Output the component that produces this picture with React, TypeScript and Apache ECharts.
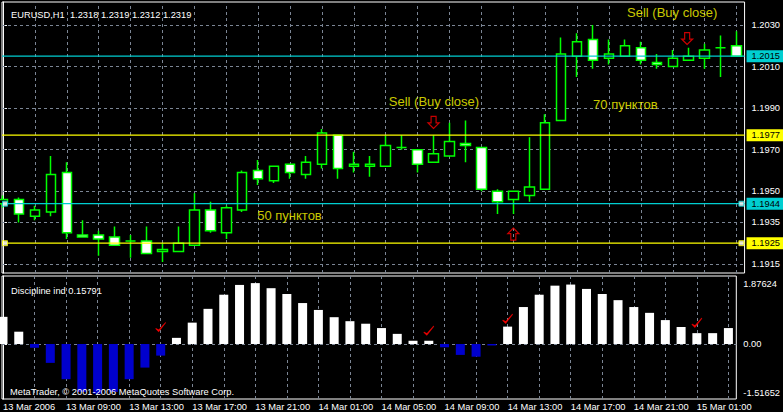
import React, { useEffect, useRef } from "react";
import * as echarts from "echarts";

// ---------- data ----------
const opens = [
  1.1944, 1.1946, 1.1938, 1.194, 1.1959, 1.1929, 1.1929, 1.1928, 1.1926, 1.1926,
  1.1921, 1.1921, 1.1924, 1.1941, 1.193, 1.1941, 1.196, 1.1955, 1.1963, 1.1958,
  1.1963, 1.1977, 1.1962, 1.1962, 1.1962, 1.1971, 1.197, 1.1964, 1.1967, 1.1973,
  1.1971, 1.195, 1.1946, 1.1948, 1.1951, 1.1984, 1.2015, 1.2023, 1.2014, 1.2015,
  1.2019, 1.2012, 1.201, 1.2013, 1.2014, 1.2019, 1.202,
];
const highs = [
  1.1948, 1.1947, 1.1943, 1.1967, 1.1964, 1.1936, 1.1931, 1.1933, 1.1929, 1.1933,
  1.1925, 1.1933, 1.1949, 1.1945, 1.1943, 1.196, 1.1965, 1.1962, 1.1963, 1.1967,
  1.198, 1.1977, 1.1969, 1.1967, 1.1977, 1.1977, 1.197, 1.1977, 1.1983, 1.1984,
  1.1971, 1.1951, 1.195, 1.1976, 1.1987, 1.2024, 1.2026, 1.203, 1.2023, 1.2023,
  1.2022, 1.2016, 1.2018, 1.2019, 1.2021, 1.2025, 1.2027,
];
const lows = [
  1.1942, 1.1935, 1.1936, 1.1938, 1.1927, 1.1928, 1.1919, 1.1924, 1.1918, 1.192,
  1.1916, 1.1921, 1.1924, 1.193, 1.1927, 1.194, 1.1953, 1.1954, 1.1956, 1.1956,
  1.1961, 1.1956, 1.1959, 1.1957, 1.1962, 1.197, 1.1959, 1.1964, 1.1967, 1.1964,
  1.195, 1.1939, 1.1939, 1.1945, 1.1951, 1.1984, 1.2005, 1.2009, 1.2011, 1.2015,
  1.2011, 1.2009, 1.201, 1.2013, 1.2009, 1.2005, 1.2015,
];
const closes = [
  1.1946, 1.1939, 1.1941, 1.1958, 1.193, 1.1928, 1.1927, 1.1924, 1.1926, 1.192,
  1.1922, 1.1925, 1.1941, 1.1931, 1.1942, 1.1959, 1.1956, 1.1962, 1.1959, 1.1964,
  1.1978, 1.1961, 1.1963, 1.1963, 1.1972, 1.1971, 1.1963, 1.1968, 1.1974, 1.1972,
  1.1951, 1.1945, 1.195, 1.1952, 1.1983, 1.2016, 1.2022, 1.2013, 1.2016, 1.202,
  1.2013, 1.2011, 1.2014, 1.2015, 1.2018, 1.2019, 1.2015,
];
const disciplineValues = [
  0.75, 0.34, -0.1, -0.52, -0.97, -1.32, -1.37, -1.32, -0.97, -0.65,
  -0.32, 0.17, 0.59, 0.97, 1.36, 1.63, 1.68, 1.54, 1.38, 1.13,
  0.94, 0.74, 0.63, 0.56, 0.44, 0.28, 0.09, 0.09, -0.09, -0.3,
  -0.35, -0.04, 0.48, 1.02, 1.36, 1.61, 1.64, 1.52, 1.38, 1.21,
  1.02, 0.86, 0.66, 0.47, 0.3, 0.3, 0.44,
];
const timeLabels = [
  "13 Mar 2006", "13 Mar 09:00", "13 Mar 13:00", "13 Mar 17:00", "13 Mar 21:00",
  "14 Mar 01:00", "14 Mar 05:00", "14 Mar 09:00", "14 Mar 13:00", "14 Mar 17:00",
  "14 Mar 21:00", "15 Mar 01:00",
];
const priceTicks = [1.1915, 1.1935, 1.195, 1.197, 1.199, 1.201, 1.203];
const cyanLevels = [1.2015, 1.1944];
const yellowLevels = [1.1977, 1.1925];
const selectedLevels = [1.1944, 1.1925];
const indicatorMax = 1.87624;
const indicatorMin = -1.51652;

const titleText = "EURUSD,H1  1.2318 1.2319 1.2312 1.2319";
const indicatorTitle = "Discipline ind 0.15791";
const copyrightText = "MetaTrader, \u00A9 2001-2006 MetaQuotes Software Corp.";

const annotations = [
  { text: "Sell (Buy close)", at: [24.19, 1.19932] },
  { text: "Sell (Buy close)", at: [39.13, 1.2036] },
  { text: "50 пунктов", at: [15.94, 1.19383] },
  { text: "70 пунктов", at: [37.0, 1.19917] },
];
const upArrows = [[32, 1.19294]];
const downArrows = [[27, 1.19831], [42.9, 1.20235]];
const checkMarks = [[10, 0.47], [27, 0.37], [32, 0.7], [44, 0.59]];

// ---------- styles ----------
const FONT = "'Liberation Sans', Arial, sans-serif";
const FS = 9.3;
const GRID_COLOR = "#7b8594";
const CYAN = "#00CED1";
const YELLOW = "#FFFF00";
const LIME = "#00FF00";
const BLUE = "#0000CD";
const RED = "#FF0000";
const X_MIN = -0.0625;
const X_MAX = 46.5;
const Y_MIN = 1.191066;
const Y_MAX = 1.204107;

const ARROW_UP = "path://M5.5 0 L11 5.5 L8 5.5 L8 12 L3 12 L3 5.5 L0 5.5 Z";
const CHECK = "path://M0 6 L3 9 L10 0 L3.2 7.6 Z";

export default function App() {
  const ref = useRef<HTMLDivElement>(null);

  useEffect(() => {
    if (!ref.current) return;
    const chart = echarts.init(ref.current, undefined, { renderer: "svg" });

    const n = opens.length;
    const candleData = opens.map((o, i) => [i, o, closes[i], lows[i], highs[i]]);
    const vGrid: number[] = [];
    for (let i = 2; i < n; i += 2) vGrid.push(i);
    const labelIdx = timeLabels.map((_, k) => k * 4);

    const textStyle = { color: "#fff", fontSize: FS, fontWeight: "normal" as const, fontFamily: FONT };

    const levelSeries = (value: number, color: string) => ({
      name: "level " + value,
      type: "line",
      xAxisIndex: 0,
      yAxisIndex: 0,
      z: 7,
      silent: true,
      symbol: "none",
      showSymbol: false,
      color,
      data: [[X_MIN, value], [X_MAX, value]],
      lineStyle: { color, width: 1.2, type: "solid" },
      emphasis: { disabled: true },
      endLabel: {
        show: true,
        distance: 2,
        formatter: () => value.toFixed(4),
        color: "#000",
        backgroundColor: color,
        padding: [2, 5, 1, 5],
        fontSize: FS,
        fontFamily: FONT,
      },
    });

    const handleItems = selectedLevels.flatMap((v) =>
      [0.125, 46.3].map((x) => ({
        value: [x, v],
        itemStyle: { color: "#fff", borderColor: cyanLevels.includes(v) ? CYAN : YELLOW, borderWidth: 1 },
      }))
    );

    const gridLineStyle = { color: GRID_COLOR, width: 1, type: [3, 3] };

    const option: any = {
      backgroundColor: "#000",
      animation: false,
      title: [
        { text: titleText, left: 6, top: 5, textStyle },
        { text: indicatorTitle, left: 6, top: 281, textStyle },
        { text: copyrightText, left: 5, top: 382, textStyle },
      ],
      grid: [
        { left: 2, top: 2, width: 745, height: 271, show: true, borderColor: "#fff", borderWidth: 1, backgroundColor: "transparent" },
        { left: 2, top: 276, width: 745, height: 123, show: true, borderColor: "#fff", borderWidth: 1, backgroundColor: "transparent" },
      ],
      xAxis: [
        { type: "value", gridIndex: 0, min: X_MIN, max: X_MAX, show: false },
        {
          type: "value",
          gridIndex: 1,
          min: X_MIN,
          max: X_MAX,
          axisLine: { show: false },
          axisTick: { show: false },
          splitLine: { show: false },
          axisLabel: {
            customValues: labelIdx,
            showMinLabel: true,
            showMaxLabel: true,
            formatter: (v: number) => timeLabels[Math.round(v / 4)] ?? "",
            color: "#fff",
            fontSize: FS,
            fontFamily: FONT,
            align: "left",
            margin: 3,
          },
        },
      ],
      yAxis: [
        {
          type: "value",
          gridIndex: 0,
          position: "right",
          min: Y_MIN,
          max: Y_MAX,
          axisLine: { show: true, lineStyle: { color: "#fff" } },
          axisTick: { show: true, length: 4, customValues: priceTicks, lineStyle: { color: "#fff" } },
          axisLabel: {
            customValues: priceTicks,
            showMinLabel: true,
            showMaxLabel: true,
            formatter: (v: number) => v.toFixed(4),
            color: "#fff",
            fontSize: FS,
            fontFamily: FONT,
            margin: 7,
          },
          splitLine: { show: false },
        },
        {
          type: "value",
          gridIndex: 1,
          position: "right",
          min: indicatorMin,
          max: indicatorMax,
          axisLine: { show: true, lineStyle: { color: "#fff" } },
          axisTick: { show: true, length: 4, customValues: [0], lineStyle: { color: "#fff" } },
          axisLabel: {
            customValues: [indicatorMin, 0, indicatorMax],
            showMinLabel: true,
            showMaxLabel: true,
            formatter: (v: number) =>
              v === indicatorMax ? "{t|" + indicatorMax + "}" : v === indicatorMin ? "{b|" + indicatorMin + "}" : "0.00",
            rich: {
              t: { padding: [16, 0, 0, 0], color: "#fff", fontSize: FS, fontFamily: FONT },
              b: { padding: [0, 0, 12, 0], color: "#fff", fontSize: FS, fontFamily: FONT },
            },
            color: "#fff",
            fontSize: FS,
            fontFamily: FONT,
            margin: 7,
          },
          splitLine: { show: false },
        },
      ],
      series: [
        {
          name: "grid-main",
          type: "line",
          xAxisIndex: 0,
          yAxisIndex: 0,
          data: [],
          silent: true,
          markLine: {
            silent: true,
            precision: 6,
            symbol: "none",
            label: { show: false },
            lineStyle: gridLineStyle,
            data: [...priceTicks.map((v) => ({ yAxis: v })), ...vGrid.map((v) => ({ xAxis: v }))],
          },
        },
        {
          name: "grid-ind",
          type: "line",
          xAxisIndex: 1,
          yAxisIndex: 1,
          data: [],
          silent: true,
          markLine: {
            silent: true,
            precision: 6,
            symbol: "none",
            label: { show: false },
            lineStyle: gridLineStyle,
            data: [{ yAxis: 0 }, ...vGrid.map((v) => ({ xAxis: v }))],
          },
        },
        {
          name: "EURUSD",
          type: "candlestick",
          xAxisIndex: 0,
          yAxisIndex: 0,
          z: 6,
          barWidth: 10,
          data: candleData,
          itemStyle: {
            color: "#000",
            color0: "#fff",
            borderColor: LIME,
            borderColor0: LIME,
            borderWidth: 1.5,
          },
        },
        ...cyanLevels.map((v) => levelSeries(v, CYAN)),
        ...yellowLevels.map((v) => levelSeries(v, YELLOW)),
        {
          name: "handles",
          type: "scatter",
          xAxisIndex: 0,
          yAxisIndex: 0,
          z: 8,
          symbol: "rect",
          symbolSize: 5,
          data: handleItems,
        },
        {
          name: "annotations",
          type: "scatter",
          xAxisIndex: 0,
          yAxisIndex: 0,
          z: 9,
          symbolSize: 0,
          data: annotations.map((a) => ({ name: a.text, value: a.at })),
          label: {
            show: true,
            position: "right",
            distance: 0,
            formatter: "{b}",
            color: YELLOW,
            fontSize: 13,
            fontFamily: FONT,
          },
        },
        {
          name: "arrows",
          type: "scatter",
          xAxisIndex: 0,
          yAxisIndex: 0,
          z: 9,
          symbol: ARROW_UP,
          symbolSize: [11, 12],
          itemStyle: { color: "rgba(0,0,0,0)", borderColor: RED, borderWidth: 1.2 },
          data: [
            ...upArrows.map((p) => ({ value: p })),
            ...downArrows.map((p) => ({ value: p, symbolRotate: 180 })),
          ],
        },
        {
          name: "Discipline ind",
          type: "bar",
          xAxisIndex: 1,
          yAxisIndex: 1,
          z: 6,
          barWidth: 9,
          data: disciplineValues.map((v, i) => ({
            value: [i, v],
            itemStyle: { color: v >= 0 ? "#fff" : BLUE },
          })),
        },
        {
          name: "checks",
          type: "scatter",
          xAxisIndex: 1,
          yAxisIndex: 1,
          z: 9,
          symbol: CHECK,
          symbolSize: [10, 9],
          itemStyle: { color: RED, borderColor: RED, borderWidth: 1 },
          data: checkMarks.map((p) => ({ value: p })),
        },
      ],
    };

    chart.setOption(option);
    return () => chart.dispose();
  }, []);

  return (
    <div
      ref={ref}
      style={{ position: "fixed", left: 0, top: 0, width: 783, height: 412, background: "#000" }}
    />
  );
}
